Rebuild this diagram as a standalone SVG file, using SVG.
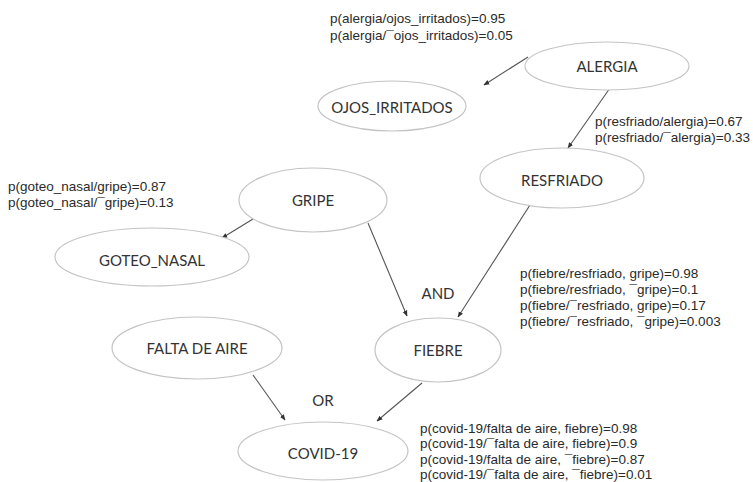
<svg xmlns="http://www.w3.org/2000/svg" width="753" height="482" viewBox="0 0 753 482">
  <style>
    .node ellipse { fill: #ffffff; stroke: #c4c4c4; stroke-width: 1.2; }
    .node text { font-family: "Lato", "Open Sans", "Liberation Sans", sans-serif; font-size: 15px; fill: #333333; text-anchor: middle; dominant-baseline: central; }
    .edge { stroke: #555555; stroke-width: 1.1; fill: none; marker-end: url(#arrow); }
    .prob { font-family: "Liberation Sans", Arial, sans-serif; font-size: 13.5px; fill: #2a2a2a; }
    .gate { font-family: "Lato", "Open Sans", "Liberation Sans", sans-serif; font-size: 15px; fill: #333333; text-anchor: middle; dominant-baseline: central; }
  </style>
  <defs>
    <marker id="arrow" viewBox="0 0 10 10" refX="9" refY="5" markerWidth="6" markerHeight="6" orient="auto" markerUnits="userSpaceOnUse">
      <path d="M0,1 L10,5 L0,9 Z" fill="#333333"/>
    </marker>
  </defs>
  <rect width="753" height="482" fill="#ffffff"/>

  <!-- connectors -->
  <g id="connectors">
    <line class="edge" x1="528" y1="57" x2="484" y2="85"/>
    <line class="edge" x1="610" y1="88" x2="568" y2="148"/>
    <line class="edge" x1="253" y1="219" x2="222" y2="238"/>
    <line class="edge" x1="368" y1="223" x2="407" y2="316"/>
    <line class="edge" x1="530" y1="205" x2="458" y2="317"/>
    <line class="edge" x1="253" y1="375" x2="285" y2="420"/>
    <line class="edge" x1="422" y1="383" x2="377" y2="421"/>
  </g>

  <!-- nodes -->
  <g id="alergia" class="node">
    <ellipse cx="607" cy="66" rx="82" ry="24"/>
    <text x="607" y="66">ALERGIA</text>
  </g>
  <g id="ojos_irritados" class="node">
    <ellipse cx="392" cy="106" rx="74" ry="25"/>
    <text x="392" y="107">OJOS_IRRITADOS</text>
  </g>
  <g id="resfriado" class="node">
    <ellipse cx="562" cy="178" rx="82" ry="30"/>
    <text x="562" y="180">RESFRIADO</text>
  </g>
  <g id="gripe" class="node">
    <ellipse cx="313" cy="200" rx="74" ry="32"/>
    <text x="313" y="200">GRIPE</text>
  </g>
  <g id="goteo_nasal" class="node">
    <ellipse cx="152" cy="257" rx="97" ry="29"/>
    <text x="152" y="260">GOTEO_NASAL</text>
  </g>
  <g id="falta_de_aire" class="node">
    <ellipse cx="197" cy="348" rx="85" ry="31"/>
    <text x="197" y="348">FALTA DE AIRE</text>
  </g>
  <g id="fiebre" class="node">
    <ellipse cx="438" cy="350" rx="63" ry="32"/>
    <text x="438" y="350">FIEBRE</text>
  </g>
  <g id="covid19" class="node">
    <ellipse cx="323" cy="451" rx="85" ry="29"/>
    <text x="323" y="453">COVID-19</text>
  </g>

  <!-- gate labels -->
  <text class="gate" x="438" y="293">AND</text>
  <text class="gate" x="323" y="400">OR</text>

  <!-- conditional probability tables -->
  <g id="cpt_ojos">
    <text class="prob" x="330" y="23">p(alergia/ojos_irritados)=0.95</text>
    <text class="prob" x="330" y="40">p(alergia/¯ojos_irritados)=0.05</text>
  </g>
  <g id="cpt_resfriado">
    <text class="prob" x="595" y="126">p(resfriado/alergia)=0.67</text>
    <text class="prob" x="595" y="142">p(resfriado/¯alergia)=0.33</text>
  </g>
  <g id="cpt_goteo">
    <text class="prob" x="8" y="191">p(goteo_nasal/gripe)=0.87</text>
    <text class="prob" x="8" y="207">p(goteo_nasal/¯gripe)=0.13</text>
  </g>
  <g id="cpt_fiebre">
    <text class="prob" x="520" y="278">p(fiebre/resfriado, gripe)=0.98</text>
    <text class="prob" x="520" y="294">p(fiebre/resfriado, ¯gripe)=0.1</text>
    <text class="prob" x="520" y="310">p(fiebre/¯resfriado, gripe)=0.17</text>
    <text class="prob" x="520" y="326">p(fiebre/¯resfriado, ¯gripe)=0.003</text>
  </g>
  <g id="cpt_covid">
    <text class="prob" x="420" y="433">p(covid-19/falta de aire, fiebre)=0.98</text>
    <text class="prob" x="420" y="448">p(covid-19/¯falta de aire,  fiebre)=0.9</text>
    <text class="prob" x="420" y="464">p(covid-19/falta de aire, ¯fiebre)=0.87</text>
    <text class="prob" x="420" y="479">p(covid-19/¯falta de aire, ¯fiebre)=0.01</text>
  </g>
</svg>
